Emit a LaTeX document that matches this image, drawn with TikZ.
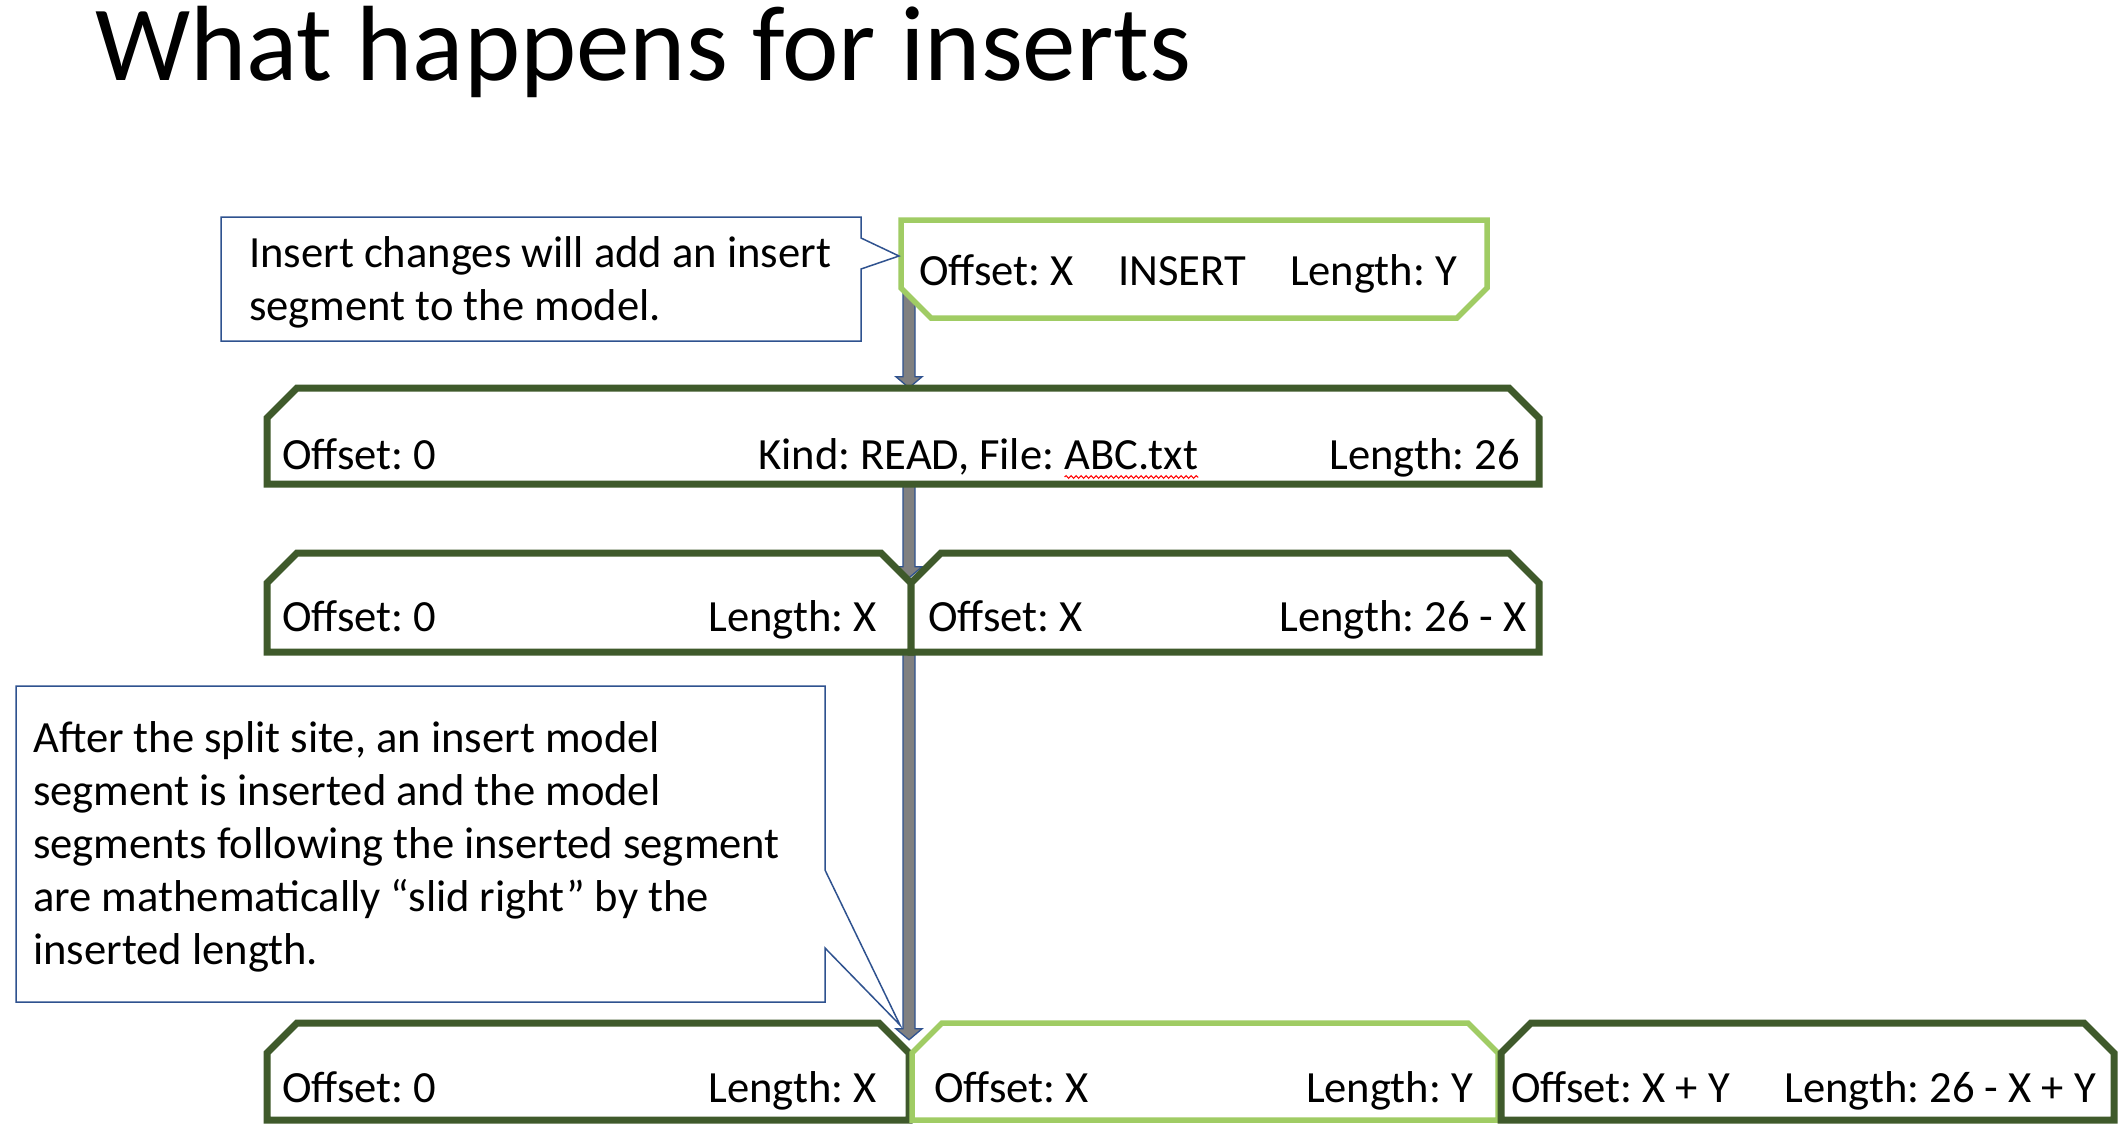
\documentclass[tikz,border=0pt]{standalone}
\usepackage{fontspec}
\setmainfont{Carlito}
\usetikzlibrary{decorations.pathmorphing,calc}
\definecolor{dkgreen}{HTML}{3F5A2B}
\definecolor{ltgreen}{HTML}{A0CC64}
\definecolor{calblue}{HTML}{2F528F}
\definecolor{arrgray}{HTML}{808080}
\frenchspacing
\tikzset{
  darkseg/.style={draw=dkgreen, line width=7pt, fill=white, line join=miter},
  lightseg/.style={draw=ltgreen, line width=5.5pt, fill=white, line join=miter},
  callbox/.style={draw=calblue, line width=1.5pt, fill=white, line join=miter},
  blockarr/.style={fill=arrgray, draw=calblue, line width=1.3pt, line join=miter},
  lbl/.style={inner sep=0pt, font=\fontsize{44.6}{53}\selectfont},
  frame/.style={inner sep=0pt, draw=none},
}
% segment box with top corners snipped: style, name, x1, y1, x2, y2
\newcommand\topsnip[6]{%
  \draw[#1] (#3,{#4+30}) -- ({#3+30},#4) -- ({#5-30},#4) -- (#5,{#4+30}) -- (#5,#6) -- (#3,#6) -- cycle;
  \node[frame, minimum width={(#5-#3)*1pt}, minimum height={(#6-#4)*1pt}] (#2) at ({(#3+#5)/2},{(#4+#6)/2}) {};}
% segment box with bottom corners snipped
\newcommand\botsnip[6]{%
  \draw[#1] (#3,#4) -- (#5,#4) -- (#5,{#6-30}) -- ({#5-30},#6) -- ({#3+30},#6) -- (#3,{#6-30}) -- cycle;
  \node[frame, minimum width={(#5-#3)*1pt}, minimum height={(#6-#4)*1pt}] (#2) at ({(#3+#5)/2},{(#4+#6)/2}) {};}
% block arrow from #1 down to #2
\newcommand\blockarrow[2]{%
  \path[blockarr] let \p1=(#1), \p2=(#2) in
    (\x1-6pt,\y1) -- (\x1+6pt,\y1) -- (\x1+6pt,\y2+11pt) -- (\x1+13pt,\y2+11pt) --
    (\x1,\y2) -- (\x1-13pt,\y2+11pt) -- (\x1-6pt,\y2+11pt) -- cycle;}
\begin{document}
\begin{tikzpicture}[x=1pt,y=-1pt]
\useasboundingbox (0,0) rectangle (2122,1128);
\fill[white] (0,0) rectangle (2122,1128);

% frames for connectors (invisible, positions only)
\node[frame, minimum width=586pt, minimum height=98pt] (insF) at (1194,269) {};
\node[frame, minimum width=1272pt, minimum height=96pt] (readF) at (903,436) {};
\node[frame, minimum width=644pt, minimum height=99pt] (s1F) at (589,602.5) {};
\node[frame, minimum width=643pt, minimum height=97pt] (f1F) at (588,1071.5) {};

\coordinate (a1s) at (909,290);
\blockarrow{a1s}{a1s |- readF.north}
\blockarrow{readF.south -| a1s}{$(s1F.north east)+(-2,25)$}
\blockarrow{s1F.south -| a1s}{$(f1F.north east)+(0,17)$}

% title
\node[inner sep=0pt, anchor=base west, font=\fontsize{107}{128}\selectfont] (title) at (95,80) {What happens for inserts};

% insert segment
\botsnip{lightseg}{ins}{901}{220}{1487}{318}
\node[lbl, anchor=base west] (insoff) at (919,285) {Offset: X};
\node[lbl, anchor=base west] (inskind) at (1118,285) {INSERT};
\node[lbl, anchor=base east] (inslen) at (1457,285) {Length: Y};

% read segment
\topsnip{darkseg}{read}{267}{388}{1539}{484}
\node[lbl, anchor=base west] (readoff) at (282,469) {Offset: 0};
\node[lbl, anchor=base west] (readkind) at (758,469) {Kind: READ, File:};
\node[lbl, anchor=base west] (abc) at ($(readkind.base east)+(10,0)$) {ABC.txt};
\node[lbl, anchor=base east] (readlen) at (1520,469) {Length: 26};
\draw[red, line width=1pt, decorate, decoration={snake, amplitude=1.4pt, segment length=5pt}] ($(abc.base west)+(0,8)$) -- ($(abc.base east)+(0,8)$);

% split segments
\topsnip{darkseg}{s1}{267}{553}{911}{652}
\topsnip{darkseg}{s2}{911}{553}{1539}{652}
\node[lbl, anchor=base west] (s1off) at (282,631) {Offset: 0};
\node[lbl, anchor=base east] (s1len) at (877,631) {Length: X};
\node[lbl, anchor=base west] (s2off) at (928,631) {Offset: X};
\node[lbl, anchor=base east] (s2len) at (1527,631) {Length: 26 - X};

% final segments
\topsnip{darkseg}{f1}{267}{1023}{909}{1120}
\topsnip{lightseg}{f2}{912}{1023}{1498}{1120}
\topsnip{darkseg}{f3}{1501}{1023}{2114}{1120}
\node[lbl, anchor=base west] (f1off) at (282,1102) {Offset: 0};
\node[lbl, anchor=base east] (f1len) at (877,1102) {Length: X};
\node[lbl, anchor=base west] (f2off) at (934,1102) {Offset: X};
\node[lbl, anchor=base east] (f2len) at (1473,1102) {Length: Y};
\node[lbl, anchor=base west] (f3off) at (1511,1102) {Offset: X + Y};
\node[lbl, anchor=base east] (f3len) at (2096,1102) {Length: 26 - X + Y};

% callouts
\draw[callbox] (221,217) -- (861,217) -- (861,238) -- (899,256) -- (861,269) -- (861,341) -- (221,341) -- cycle;
\node[lbl, anchor=base west] (c1) at (249,267) {\begin{tabular}[t]{@{}l@{}}Insert changes will add an insert\\segment to the model.\end{tabular}};

\draw[callbox] (16,686) -- (825,686) -- (825,870) -- (900,1025) -- (825,948) -- (825,1002) -- (16,1002) -- cycle;
\node[lbl, anchor=base west] (c2) at (33,752) {\begin{tabular}[t]{@{}l@{}}After the split site, an insert model\\segment is inserted and the model\\segments following the inserted segment\\are mathematically “slid right” by the\\inserted length.\end{tabular}};
\end{tikzpicture}
\end{document}
